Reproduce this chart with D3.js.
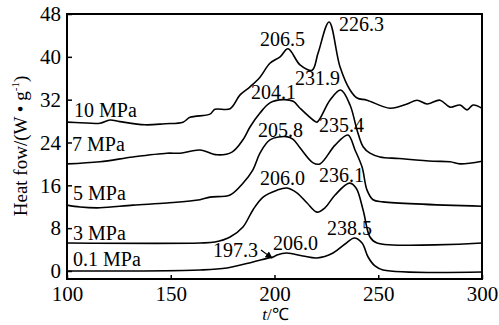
<!DOCTYPE html>
<html>
<head>
<meta charset="utf-8">
<script src="https://cdn.jsdelivr.net/npm/d3@7"></script>
<style>
  body { margin: 0; background: #fff; }
  svg { font-family: "Liberation Serif", "Times New Roman", serif; }
</style>
</head>
<body>
<svg id="chart"></svg>
<script>
// heat flow curves, [temperature °C, heat flow W/g]
const flow10 = [[100,27.8],[106.3,27.7],[115.9,27.6],[120.7,28.2],[125.5,27.9],[137.6,27.3],[147.2,27.5],
  [155.9,27.8],[159.3,28.7],[168.9,29.3],[171.3,30.2],[178.6,30.3],[183.4,32.9],[188.2,34.4],[193,36.2],
  [197.8,38.8],[202.7,40.0],[206.5,41.5],[212.3,38.5],[218.1,37.5],[221,40.7],[226.3,46.5],[231.6,38.1],
  [236.4,33.8],[239.8,32.3],[244.6,31.9],[255.7,30.4],[263.9,31.2],[268.7,31.9],[273.5,31.2],[279.8,31.9],
  [284.6,30.6],[289.4,31.0],[292.8,30.1],[295.7,31.0],[300,30.4]];
const flow7 = [[100,20.0],[115.9,20.4],[131.8,21.3],[148.2,22.0],[154.5,22.0],[164.1,22.6],[172.3,21.7],
  [179.5,22.2],[184.8,24.5],[188.2,26.9],[193,29.5],[197.8,31.4],[204.1,32.0],[209,31.7],[212.3,30.4],
  [218.6,28.2],[220.5,27.8],[226.7,31.9],[231.9,33.8],[236.4,31.0],[239.8,26.3],[242.7,23.2],[246,22.0],
  [250.8,21.3],[260,21.0],[276.4,20.5],[284.6,20.4],[289.4,20.0],[300,20.5]];
const flow5 = [[100,12.3],[106.3,11.95],[115.9,11.8],[131.8,12.3],[148.2,12.7],[164.1,13.3],[168.9,13.8],
  [178.6,14.2],[184.8,16.4],[189.6,18.9],[193,22.0],[197.8,24.5],[205.8,25.1],[209,24.6],[212.3,23.0],
  [218.6,20.2],[221.9,20.0],[229.2,23.5],[235.4,25.4],[238.8,22.6],[242.2,19.4],[244.6,15.1],[247.5,13.3],
  [252.3,12.9],[300,12.1]];
const flow3 = [[100,5.23],[164.1,5.23],[171.3,5.42],[178.6,6.35],[184.8,8.22],[189.6,11.4],[194.5,13.8],
  [201.2,15.1],[206,15.5],[210.8,14.6],[215.7,12.7],[220.5,11.0],[224.3,11.8],[229.2,14.2],[236.1,16.4],
  [239.3,15.5],[242.7,11.4],[246,6.35],[249.4,5.23],[300,5.23]];
const flow01 = [[100,0],[164.1,0.19],[177.1,0.56],[189.6,1.68],[197.3,2.45],[199.3,2.6],[201.2,3.0],
  [206,3.36],[213.7,2.8],[220.5,2.43],[228.2,3.36],[234,5.04],[238.5,6.16],[242.2,5.23],[245.1,2.61],
  [248.4,0.93],[252.3,0.19],[300,-0.19]];

const seriesData = [flow10, flow7, flow5, flow3, flow01];
const seriesNames = ['10 MPa', '7 MPa', '5 MPa', '3 MPa', '0.1 MPa'];
// where each name sits, in data units
const seriesLabelAt = [[103.4,28.8],[102.4,22.4],[102.9,13.3],[102.9,5.8],[102.9,0.93]];

const peakTexts = ['206.5','226.3','204.1','231.9','205.8','235.4','206.0','236.1','197.3','206.0','238.5'];
const peakLabelAt = [[193,42.0],[231.1,44.8],[188.7,32.1],[209.9,34.7],[192,25.0],[221.4,26.0],
  [193,16.1],[221.4,16.6],[170.4,2.6],[199.3,3.9],[225.3,6.7]];

const xTicks = [100, 150, 200, 250, 300];
const yTicks = [0, 8, 16, 24, 32, 40, 48];

const width = 499, height = 325;
const plot = { left: 67, right: 482, top: 14, bottom: 279 };

const svg = d3.select('#chart').attr('width', width).attr('height', height);

const x = d3.scaleLinear().domain([100, 300]).range([plot.left, plot.right]);
const y = d3.scaleLinear().domain([-1.5, 48]).range([plot.bottom, plot.top]);

// frame
svg.append('rect')
    .attr('x', plot.left).attr('y', plot.top)
    .attr('width', plot.right - plot.left).attr('height', plot.bottom - plot.top)
    .attr('fill', 'none').attr('stroke', '#000').attr('stroke-width', 2);

// axes with inward ticks
const xAxis = svg.append('g')
    .attr('transform', `translate(0,${plot.bottom})`)
    .call(d3.axisBottom(x).tickValues(xTicks).tickSize(-4).tickPadding(7).tickFormat(d3.format('d')));
const yAxis = svg.append('g')
    .attr('transform', `translate(${plot.left},0)`)
    .call(d3.axisLeft(y).tickValues(yTicks).tickSize(-5).tickPadding(6).tickFormat(d3.format('d')));

[xAxis, yAxis].forEach(g => {
    g.select('.domain').remove();
    g.selectAll('line').attr('stroke', '#000').attr('stroke-width', 1.5);
    g.selectAll('text')
        .attr('fill', '#000')
        .style('font-family', '"Liberation Serif", serif')
        .style('font-size', '21px');
});

// curves
const line = d3.line()
    .x(d => x(d[0]))
    .y(d => y(d[1]))
    .curve(d3.curveCatmullRom.alpha(0.5));

svg.selectAll('path.curve')
    .data(seriesData)
    .join('path')
    .attr('class', 'curve')
    .attr('d', line)
    .attr('fill', 'none')
    .attr('stroke', '#000')
    .attr('stroke-width', 1.6);

// series names
svg.selectAll('text.series')
    .data(seriesNames)
    .join('text')
    .attr('class', 'series')
    .attr('x', (d, i) => x(seriesLabelAt[i][0]))
    .attr('y', (d, i) => y(seriesLabelAt[i][1]))
    .attr('font-size', 20)
    .text(d => d);

// peak temperatures
svg.selectAll('text.peak')
    .data(peakTexts)
    .join('text')
    .attr('class', 'peak')
    .attr('x', (d, i) => x(peakLabelAt[i][0]))
    .attr('y', (d, i) => y(peakLabelAt[i][1]))
    .attr('font-size', 20)
    .text(d => d);

// little arrow pointing at the 197.3 shoulder
svg.append('defs').append('marker')
    .attr('id', 'arrow')
    .attr('viewBox', '0 0 10 10')
    .attr('refX', 9).attr('refY', 5)
    .attr('markerWidth', 6).attr('markerHeight', 6)
    .attr('orient', 'auto')
    .append('path').attr('d', 'M0,0L10,5L0,10z').attr('fill', '#000');

svg.append('line')
    .attr('x1', x(193.5)).attr('y1', y(3.9))
    .attr('x2', x(198.8)).attr('y2', y(2.4))
    .attr('stroke', '#000').attr('stroke-width', 1.2)
    .attr('marker-end', 'url(#arrow)');

// axis titles
const xTitle = svg.append('text')
    .attr('x', (plot.left + plot.right) / 2 + 1)
    .attr('y', 320)
    .attr('text-anchor', 'middle')
    .attr('font-size', 17);
xTitle.append('tspan').attr('font-style', 'italic').text('t');
xTitle.append('tspan').text('/℃');

const yTitle = svg.append('text')
    .attr('transform', 'translate(27,146) rotate(-90)')
    .attr('text-anchor', 'middle')
    .attr('font-size', 19);
yTitle.append('tspan').text('Heat fow/(W • g');
yTitle.append('tspan').attr('font-size', 11).attr('dy', -8).text('-1');
yTitle.append('tspan').attr('dy', 8).text(')');
</script>
</body>
</html>
